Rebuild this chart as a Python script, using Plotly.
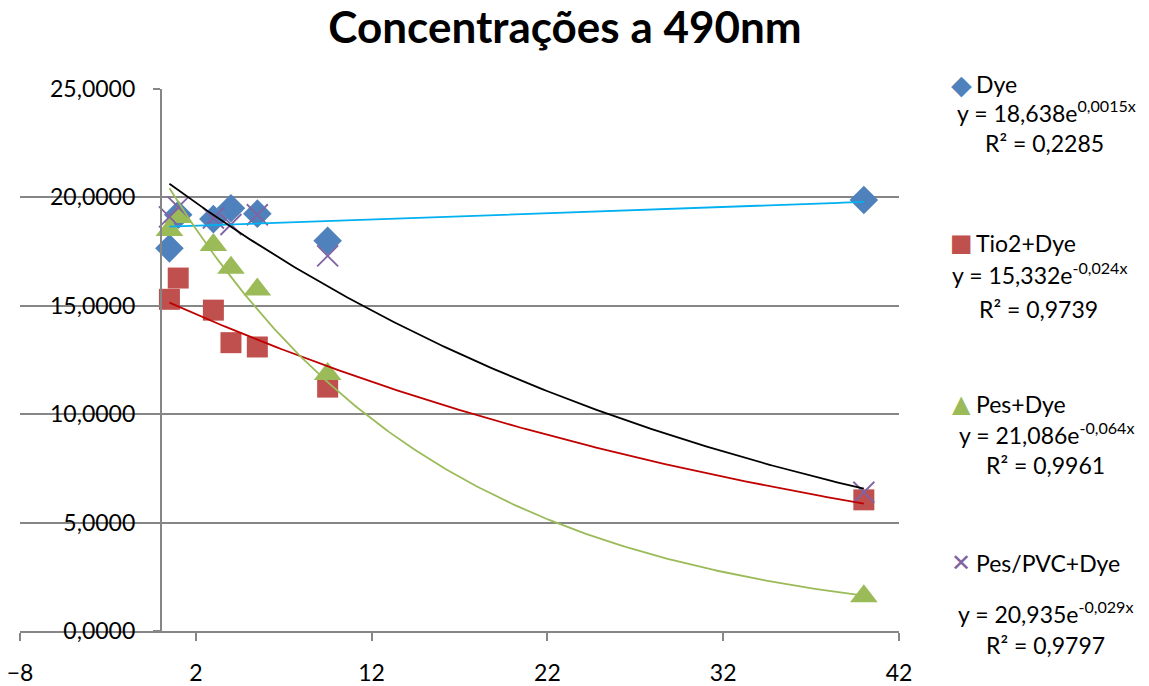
import numpy as np
import plotly.graph_objects as go

# ---- data ----
x_vals = [0.5, 1, 3, 4, 5.5, 9.5, 40]
dye = [17.65, 19.2, 19.0, 19.5, 19.25, 18.0, 19.88]
tio2_dye = [15.3, 16.28, 14.8, 13.3, 13.1, 11.25, 6.05]
pes_dye = [18.5, 19.1, 17.8, 16.75, 15.75, 11.85, 1.6]
pes_pvc_dye = [19.1, 19.55, 19.05, 18.75, 19.2, 17.3, 6.4]

series_names = ["Dye", "Tio2+Dye", "Pes+Dye", "Pes/PVC+Dye"]
trend_a = [18.638, 15.332, 21.086, 20.935]
trend_b = [0.0015, -0.024, -0.064, -0.029]
trend_eq = ["y = 18,638e<sup>0,0015x</sup>", "y = 15,332e<sup>-0,024x</sup>",
            "y = 21,086e<sup>-0,064x</sup>", "y = 20,935e<sup>-0,029x</sup>"]
trend_r2 = ["R² = 0,2285", "R² = 0,9739", "R² = 0,9961", "R² = 0,9797"]

x_ticks = [-8, 2, 12, 22, 32, 42]
y_ticks = [0, 5, 10, 15, 20, 25]

# ---- styles ----
FONT = "Lato"
FS = 23
marker_colors = ["#4F81BD", "#C0504D", "#9BBB59", "#8064A2"]
trend_colors = ["#00B0F0", "#C00000", "#9BBB59", "#000000"]
symbols = ["diamond", "square", "triangle-up", "x-thin"]
sizes = [22, 21, 24, 21]
legend_glyphs = ["◆", "■", "▲", "✕"]
series_vals = [dye, tio2_dye, pes_dye, pes_pvc_dye]

fig = go.Figure()
for i in range(4):
    mk = dict(color=marker_colors[i], size=sizes[i], symbol=symbols[i])
    if symbols[i] == "x-thin":
        mk["line"] = dict(color=marker_colors[i], width=1.8)
    else:
        mk["line"] = dict(width=0)
    fig.add_trace(go.Scatter(x=x_vals, y=series_vals[i], mode="markers",
                             name=series_names[i], marker=mk))

xt = np.linspace(min(x_vals), max(x_vals), 200)
for i in range(4):
    fig.add_trace(go.Scatter(x=xt, y=trend_a[i] * np.exp(trend_b[i] * xt),
                             mode="lines", line=dict(color=trend_colors[i], width=1.8),
                             showlegend=False, hoverinfo="skip"))

L, R, T, B = 19.5, 249.5, 89, 55
W, H = 1149, 686
pw = W - L - R
ph = H - T - B

def px_x(p):
    return (p - L) / pw

def px_y(p):
    return (H - B - p) / ph

anns = []
leg_y = [84, 243, 404, 563]
eq_y = [112, 273, 433, 612]
r2_y = [143, 309, 465, 645]
eq_cx = [1047, 1040, 1047, 1046]
r2_cx = [1045, 1039, 1046, 1046]
glyph_sizes = [27, 24, 24, 24]
for i in range(4):
    anns.append(dict(x=px_x(962), y=px_y(leg_y[i]), xref="paper", yref="paper",
                     text=legend_glyphs[i], showarrow=False, xanchor="center", yanchor="middle",
                     font=dict(family="DejaVu Sans", size=glyph_sizes[i], color=marker_colors[i])))
    anns.append(dict(x=px_x(975), y=px_y(leg_y[i]), xref="paper", yref="paper",
                     text=series_names[i], showarrow=False, xanchor="left", yanchor="middle",
                     font=dict(family=FONT, size=FS, color="black")))
    anns.append(dict(x=px_x(eq_cx[i]), y=px_y(eq_y[i]), xref="paper", yref="paper",
                     text=trend_eq[i], showarrow=False, xanchor="center", yanchor="middle",
                     font=dict(family=FONT, size=FS, color="black")))
    anns.append(dict(x=px_x(r2_cx[i]), y=px_y(r2_y[i]), xref="paper", yref="paper",
                     text=trend_r2[i], showarrow=False, xanchor="center", yanchor="middle",
                     font=dict(family=FONT, size=FS, color="black")))

fig.update_layout(
    width=W, height=H,
    margin=dict(l=L, r=R, t=T, b=B),
    paper_bgcolor="white", plot_bgcolor="white",
    separators=",.",
    showlegend=False,
    title=dict(text="<b>Concentrações a 490nm</b>", x=565 / W, xanchor="center",
               y=1 - 28 / H, yanchor="middle",
               font=dict(family=FONT, size=44, color="black")),
    xaxis=dict(range=[-8, 42], tickvals=x_ticks, showgrid=False, zeroline=False,
               showline=True, linecolor="#868686", linewidth=1.5,
               ticks="outside", ticklen=8, tickcolor="#868686", tickwidth=1.5,
               ticklabelstandoff=13,
               tickfont=dict(family=FONT, size=FS, color="black"), fixedrange=True,
               automargin=False),
    yaxis=dict(range=[0, 25], tickvals=y_ticks, tickformat=".4f",
               showgrid=True, gridcolor="#868686", gridwidth=1.5,
               zeroline=False, showline=True, linecolor="#868686", linewidth=1.5,
               anchor="free", position=8 / 50,
               ticks="outside", ticklen=7, tickcolor="#868686", tickwidth=1.5,
               ticklabelstandoff=13,
               tickfont=dict(family=FONT, size=FS, color="black"), fixedrange=True,
               automargin=False),
    annotations=anns,
)

fig.write_html("out.html", config={"displayModeBar": False},
               post_script="document.body.style.margin='0px';")
